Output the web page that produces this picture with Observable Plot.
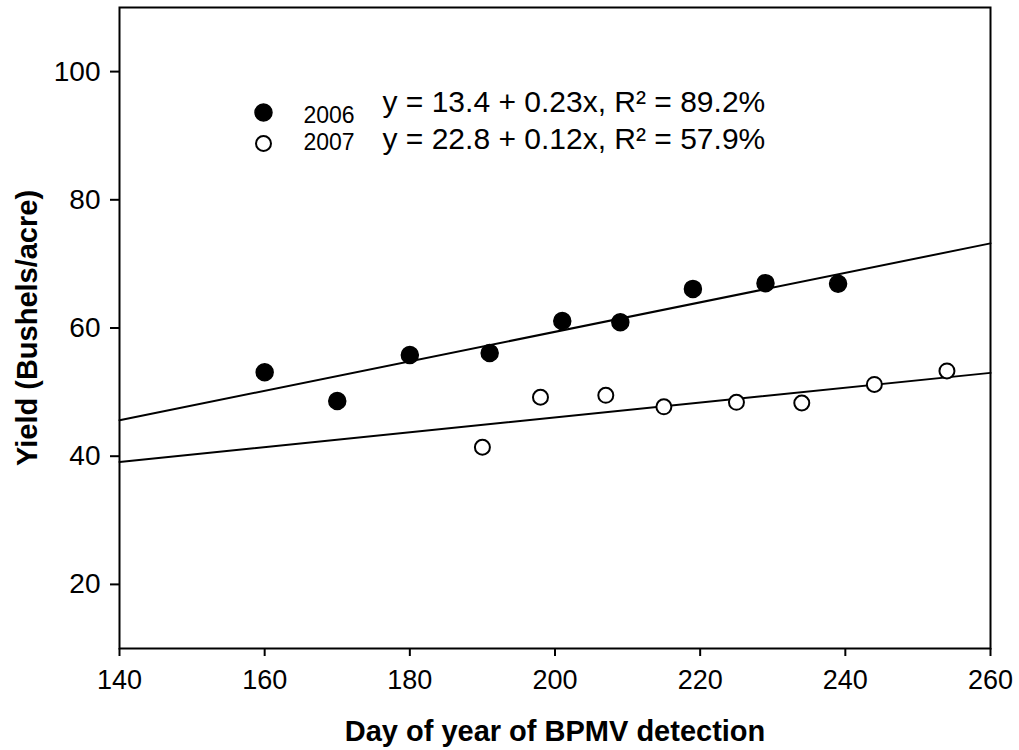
<!DOCTYPE html>
<html>
<head>
<meta charset="utf-8">
<script src="https://cdn.jsdelivr.net/npm/d3@7"></script>
<script src="https://cdn.jsdelivr.net/npm/@observablehq/plot@0.6"></script>
<style>
  html, body { margin: 0; padding: 0; background: #fff; }
  #chart { width: 1019px; height: 750px; }
</style>
</head>
<body>
<div id="chart"></div>
<script>
// Observed data
const days2006 = [160, 170, 180, 191, 201, 209, 219, 229, 239];
const yield2006 = [53.1, 48.6, 55.8, 56.1, 61.1, 60.9, 66.1, 67.0, 66.9];
const days2007 = [190, 198, 207, 215, 225, 234, 244, 254];
const yield2007 = [41.4, 49.2, 49.5, 47.7, 48.4, 48.3, 51.2, 53.3];

// Regression lines (endpoints)
const fitX = [140, 260];
const fit2006 = [45.6, 73.2];
const fit2007 = [39.1, 53.0];

// Axis ticks
const xTicks = [140, 160, 180, 200, 220, 240, 260];
const yTicks = [20, 40, 60, 80, 100];

// Legend labels
const years = ["2006", "2007"];
const equations = ["y = 13.4 + 0.23x, R\u00B2 = 89.2%", "y = 22.8 + 0.12x, R\u00B2 = 57.9%"];

const pts2006 = days2006.map((d, i) => ({day: d, yield: yield2006[i]}));
const pts2007 = days2007.map((d, i) => ({day: d, yield: yield2007[i]}));
const line2006 = fitX.map((d, i) => ({day: d, yield: fit2006[i]}));
const line2007 = fitX.map((d, i) => ({day: d, yield: fit2007[i]}));

const one = [0];
const font = "'Liberation Sans', Arial, Helvetica, sans-serif";

const chart = Plot.plot({
  width: 1019,
  height: 750,
  marginLeft: 119,
  marginRight: 29,
  marginTop: 7,
  marginBottom: 102,
  style: {fontFamily: font, color: "black", background: "white", overflow: "visible"},
  x: {domain: [140, 260]},
  y: {domain: [10, 110]},
  marks: [
    Plot.axisX({ticks: xTicks, tickSize: 8, tickPadding: 13, fontSize: 27, label: null, strokeWidth: 2, stroke: "black"}),
    Plot.axisY({ticks: yTicks, tickSize: 9, tickPadding: 10, fontSize: 28, label: null, strokeWidth: 2, stroke: "black"}),
    Plot.frame({stroke: "black", strokeWidth: 2}),
    Plot.line(line2006, {x: "day", y: "yield", stroke: "black", strokeWidth: 2}),
    Plot.line(line2007, {x: "day", y: "yield", stroke: "black", strokeWidth: 2}),
    Plot.dot(pts2006, {x: "day", y: "yield", r: 8.5, fill: "black", stroke: "black"}),
    Plot.dot(pts2007, {x: "day", y: "yield", r: 7.5, fill: "white", stroke: "black", strokeWidth: 2}),
    // axis titles
    Plot.text(one, {frameAnchor: "bottom", text: () => "Day of year of BPMV detection", dy: 83, lineAnchor: "middle", textAnchor: "middle", fontSize: 29, fontWeight: "bold", fill: "black"}),
    Plot.text(one, {frameAnchor: "left", text: () => "Yield (Bushels/acre)", rotate: -90, dx: -92, lineAnchor: "middle", textAnchor: "middle", fontSize: 29, fontWeight: "bold", fill: "black"}),
    // legend
    Plot.dot(one, {frameAnchor: "top-left", dx: 144, dy: 105, r: 8.5, fill: "black", stroke: "black"}),
    Plot.dot(one, {frameAnchor: "top-left", dx: 144, dy: 136, r: 7.5, fill: "white", stroke: "black", strokeWidth: 2}),
    Plot.text(one, {frameAnchor: "top-left", text: () => years[0], dx: 184, dy: 108, lineAnchor: "middle", fontSize: 23, textAnchor: "start", fill: "black"}),
    Plot.text(one, {frameAnchor: "top-left", text: () => years[1], dx: 184, dy: 135, lineAnchor: "middle", fontSize: 23, textAnchor: "start", fill: "black"}),
    Plot.text(one, {frameAnchor: "top-left", text: () => equations[0], dx: 263, dy: 95, lineAnchor: "middle", fontSize: 30, textAnchor: "start", fill: "black"}),
    Plot.text(one, {frameAnchor: "top-left", text: () => equations[1], dx: 263, dy: 132, lineAnchor: "middle", fontSize: 30, textAnchor: "start", fill: "black"})
  ]
});
document.getElementById("chart").appendChild(chart);
</script>
</body>
</html>
